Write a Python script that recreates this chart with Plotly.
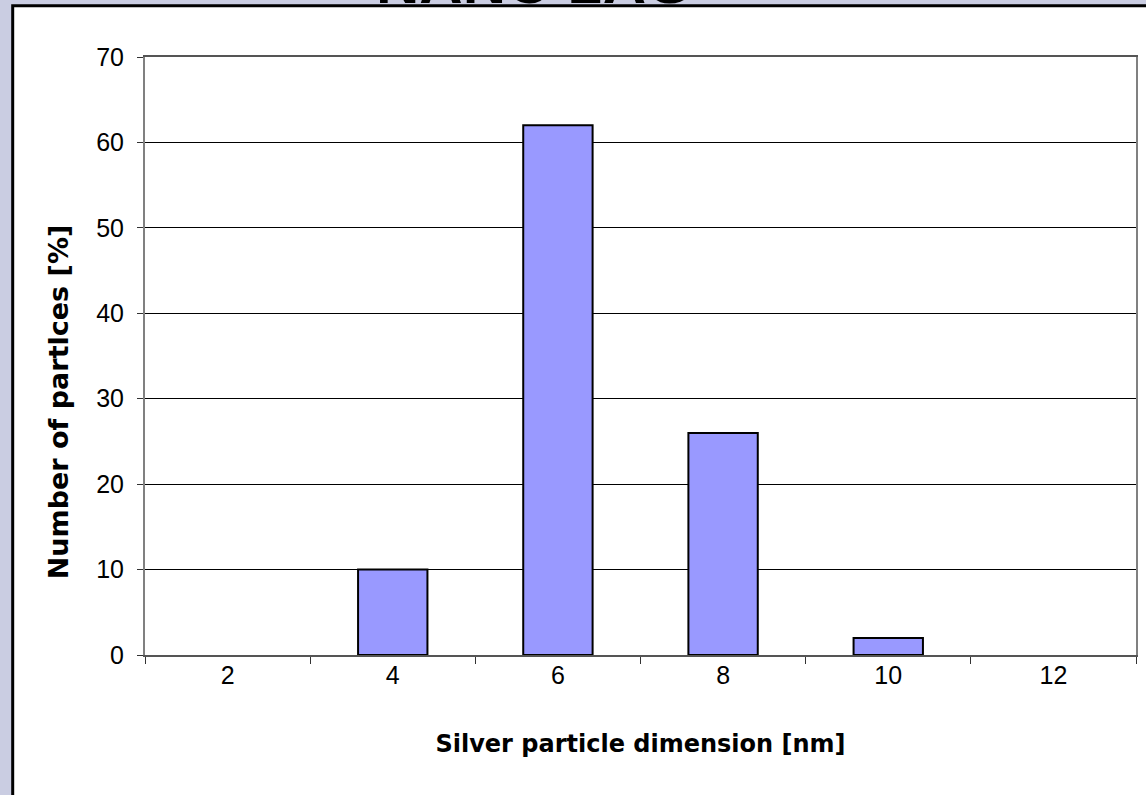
import plotly.graph_objects as go

# particle size distribution
sizes = ["2", "4", "6", "8", "10", "12"]
percent = [0, 10, 62, 26, 2, 0]

y_ticks = [0, 10, 20, 30, 40, 50, 60, 70]

fig = go.Figure()
fig.add_trace(go.Bar(
    x=sizes,
    y=percent,
    width=0.42,
    marker=dict(color="#9999FF",
                line=dict(color="black", width=[2 if v > 0 else 0 for v in percent])),
))

# white slide panel with black border
fig.add_shape(type="rect", xref="paper", yref="paper",
              x0=-0.1335, y0=-0.4, x1=1.2, y1=1.0855,
              fillcolor="white", line=dict(color="black", width=3), layer="below")

# slide title, mostly off the top of the page
fig.add_annotation(text="<b>NANO 2AG</b>", xref="paper", yref="paper",
                   x=0.393, y=1.0855, yanchor="bottom", yshift=-12, showarrow=False,
                   font=dict(family="Liberation Sans, Arial", size=60, color="black"))

# y title sits a bit below the plot centre in the original
fig.add_annotation(text="<b>Number of partlces [%]</b>", xref="paper", yref="paper",
                   x=-0.0876, y=0.423, xanchor="center", yanchor="middle",
                   textangle=-90, showarrow=False,
                   font=dict(family="DejaVu Sans", size=27, color="black"))

tick_font = dict(family="Liberation Sans, Arial", size=25, color="black")

fig.update_layout(
    width=1146, height=795,
    margin=dict(l=145, r=8, t=57, b=140),
    paper_bgcolor="#CACDE2",
    plot_bgcolor="white",
    showlegend=False,
    font=dict(family="Liberation Sans, Arial", size=21, color="black"),
)
fig.update_xaxes(
    type="category", tickson="boundaries", ticks="outside", ticklen=7,
    tickcolor="#333", showgrid=False, ticklabelstandoff=-3, tickfont=tick_font,
    showline=True, linecolor="#555", linewidth=2, mirror=True,
    title=dict(text="<b>Silver particle dimension [nm]</b>",
               font=dict(family="DejaVu Sans", size=24, color="black"), standoff=47),
)
fig.update_yaxes(
    range=[0, 70], tickvals=y_ticks, ticks="outside", ticklen=6, tickcolor="#333",
    showgrid=True, gridcolor="black", gridwidth=1, zeroline=False,
    ticklabelstandoff=8, tickfont=tick_font,
    showline=True, linecolor="#808080", linewidth=2, mirror=True,
)

fig.write_html("out.html", config={"displayModeBar": False},
               post_script="document.body.style.margin='0';")
